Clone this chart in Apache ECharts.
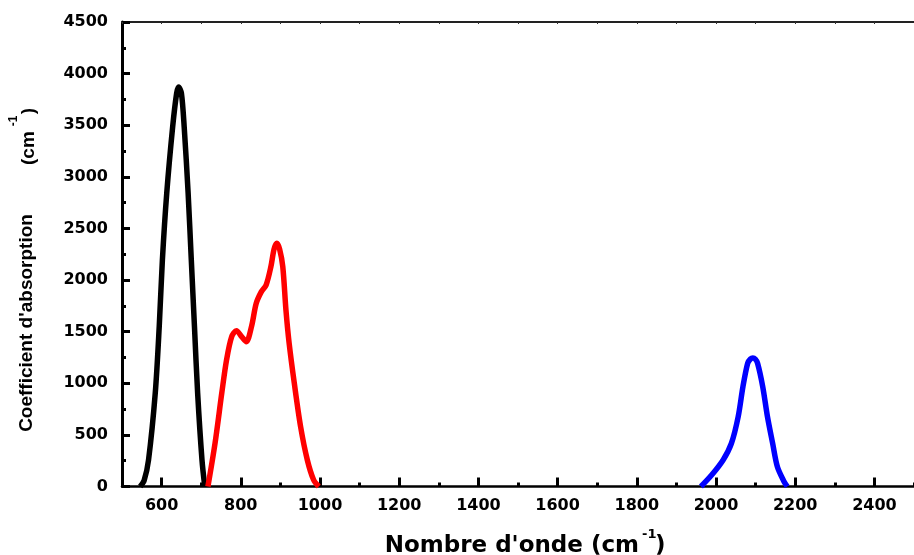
<!DOCTYPE html>
<html>
<head>
<meta charset="utf-8">
<script src="https://cdn.jsdelivr.net/npm/echarts@6/dist/echarts.min.js"></script>
<style>
  html, body { margin: 0; padding: 0; background: #fff; }
  #chart { width: 914px; height: 555px; }
</style>
</head>
<body>
<div id="chart"></div>
<script>
// absorption bands (wavenumber cm-1 / coefficient cm-1)
const blackX = [546, 556, 567, 584, 594, 602, 613, 628, 638, 643, 650, 657, 667, 675, 683, 691, 702, 709];
const blackY = [0, 60, 257, 906, 1549, 2195, 2842, 3487, 3810, 3870, 3810, 3487, 2842, 2195, 1549, 906, 257, 0];

const redX = [717, 735, 752, 764, 777, 789, 802, 814, 827, 839, 852, 864, 876, 884, 891, 898, 906, 914, 922, 935, 951, 968, 984, 997];
const redY = [0, 420, 906, 1226, 1452, 1510, 1452, 1403, 1549, 1775, 1888, 1953, 2130, 2300, 2357, 2300, 2130, 1710, 1390, 1003, 580, 257, 63, 0];

const blueX = [1962, 1989, 2018, 2039, 2056, 2068, 2080, 2087, 2093, 2099, 2105, 2118, 2130, 2143, 2155, 2172, 2180];
const blueY = [0, 111, 257, 419, 676, 967, 1194, 1235, 1245, 1235, 1194, 967, 676, 419, 192, 47, 0];

const xMin = 500, xMax = 2500;
const yMin = 0, yMax = 4500;

function zip(xs, ys) {
  return xs.map((x, i) => [x, ys[i]]);
}

const labelFont = {
  fontFamily: 'DejaVu Sans',
  fontWeight: 'bold',
  fontSize: 16,
  color: '#000',
  formatter: v => String(v)
};

function band(data, color) {
  return {
    type: 'line',
    xAxisIndex: 0,
    data: data,
    smooth: 0.3,
    showSymbol: false,
    lineStyle: { color: color, width: 5.5 },
    itemStyle: { color: color },
    z: 1
  };
}

function txt(x, y, text, font, align, rotate) {
  return {
    type: 'text', x: x, y: y, rotation: rotate ? Math.PI / 2 : 0,
    style: {
      text: text, fill: '#000', font: font,
      align: align, verticalAlign: 'middle',
      textAlign: align, textVerticalAlign: 'middle'
    }
  };
}

const yFont = "bold 19px 'Liberation Sans'";
const xFont = "bold 23px 'DejaVu Sans'";

const chart = echarts.init(document.getElementById('chart'));
chart.setOption({
  animation: false,
  grid: { left: 122, right: -11, top: 22, bottom: 68.5 },
  xAxis: [
    {
      // minor ticks every 100
      type: 'value', min: xMin, max: xMax, interval: 100, position: 'bottom',
      axisLine: { lineStyle: { color: '#000', width: 2.5 } },
      axisTick: { inside: true, length: 4, lineStyle: { color: '#000', width: 3 } },
      axisLabel: { show: false },
      splitLine: { show: false }
    },
    {
      // major ticks + labels every 200
      type: 'value', min: xMin, max: xMax, splitNumber: 10,
      minInterval: 200, maxInterval: 200, position: 'bottom',
      axisLine: { show: false },
      axisTick: { inside: true, length: 9, lineStyle: { color: '#000', width: 3 } },
      axisLabel: Object.assign({ margin: 11, showMinLabel: false, showMaxLabel: false }, labelFont),
      splitLine: { show: false }
    },
    {
      // frame on top
      type: 'value', min: xMin, max: xMax, interval: 100, position: 'top',
      axisLine: { lineStyle: { color: '#222', width: 2 } },
      axisTick: { inside: true, length: 2, lineStyle: { color: '#333', width: 1 } },
      axisLabel: { show: false },
      splitLine: { show: false }
    }
  ],
  yAxis: {
    type: 'value', min: yMin, max: yMax, interval: 500,
    axisLine: { show: true, lineStyle: { color: '#000', width: 3 } },
    axisTick: { show: true, inside: true, length: 8, lineStyle: { color: '#000', width: 3 } },
    minorTick: { show: true, splitNumber: 2, length: 4, lineStyle: { color: '#000', width: 3 } },
    axisLabel: Object.assign({ margin: 14 }, labelFont),
    splitLine: { show: false },
    minorSplitLine: { show: false }
  },
  series: [
    band(zip(blackX, blackY), '#000000'),
    band(zip(redX, redY), '#ff0000'),
    band(zip(blueX, blueY), '#0000ff')
  ],
  graphic: [
    txt(27, 323, "Coefficient d'absorption", yFont, 'center', true),
    txt(29, 165, '(cm', yFont, 'left', true),
    txt(14, 121, '-1', "bold 12px 'Liberation Sans'", 'center', true),
    txt(29, 111, ')', yFont, 'center', true),
    txt(639, 546, "Nombre d'onde (cm", xFont, 'right', false),
    txt(642, 535, '-1', "bold 13px 'DejaVu Sans'", 'left', false),
    txt(655, 546, ')', xFont, 'left', false)
  ]
});
</script>
</body>
</html>
